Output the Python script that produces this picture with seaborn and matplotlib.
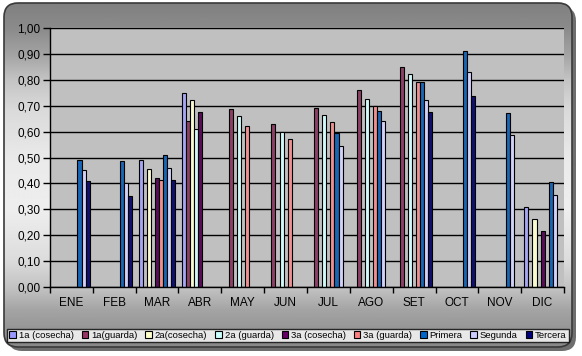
import numpy as np
import pandas as pd
import matplotlib
matplotlib.use('Agg')
import matplotlib.pyplot as plt
from matplotlib.patches import FancyBboxPatch, Patch
import seaborn as sns

meses = ['ENE', 'FEB', 'MAR', 'ABR', 'MAY', 'JUN', 'JUL', 'AGO', 'SET', 'OCT', 'NOV', 'DIC']
series = ['1a (cosecha)', '1a(guarda)', '2a(cosecha)', '2a (guarda)', '3a (cosecha)',
          '3a (guarda)', 'Primera', 'Segunda', 'Tercera']
colores = ['#9999FF', '#993366', '#FFFFCC', '#CCFFFF', '#660066',
           '#FF8080', '#0066CC', '#CCCCFF', '#000080']

nan = np.nan
# one list per series, 12 months each
c1 = [nan, nan, 0.49, 0.75, nan, nan, nan, nan, nan, nan, nan, 0.31]
g1 = [nan, nan, nan, 0.64, 0.685, 0.63, 0.69, 0.76, 0.85, nan, nan, nan]
c2 = [nan, nan, 0.455, 0.72, nan, nan, nan, nan, nan, nan, nan, 0.265]
g2 = [nan, nan, nan, 0.61, 0.66, 0.60, 0.665, 0.725, 0.82, nan, nan, nan]
c3 = [nan, nan, 0.42, 0.675, nan, nan, nan, nan, nan, nan, nan, 0.215]
g3 = [nan, nan, 0.415, nan, 0.62, 0.57, 0.635, 0.70, 0.79, nan, nan, nan]
primera = [0.49, 0.485, 0.51, nan, nan, nan, 0.595, 0.68, 0.79, 0.91, 0.67, 0.405]
segunda = [0.45, 0.40, 0.46, nan, nan, nan, 0.545, 0.64, 0.72, 0.83, 0.585, 0.355]
tercera = [0.41, 0.35, 0.415, nan, nan, nan, nan, nan, 0.675, 0.735, nan, nan]

valores = [c1, g1, c2, g2, c3, g3, primera, segunda, tercera]
rows = []
for s, vals in zip(series, valores):
    for m, v in zip(meses, vals):
        if not np.isnan(v):
            rows.append({'mes': m, 'serie': s, 'valor': v})
df = pd.DataFrame(rows)

plt.rcParams['font.family'] = ['Liberation Sans', 'DejaVu Sans']

W, H = 582, 356
fig = plt.figure(figsize=(W / 100, H / 100), dpi=100)

# chart area: rounded frame with vertical grey gradient and shadow
bg = fig.add_axes([0, 0, 1, 1])
bg.set_xlim(0, W)
bg.set_ylim(H, 0)
bg.axis('off')
shadow = FancyBboxPatch((8, 7), 568, 344, boxstyle='round,pad=0,rounding_size=14',
                        fc='#6E6E6E', ec='none', zorder=0)
bg.add_patch(shadow)
frame = FancyBboxPatch((4, 3), 568, 344, boxstyle='round,pad=0,rounding_size=14',
                       fc='none', ec='#3A3A3A', lw=1.2, zorder=3)
bg.add_patch(frame)
stops_y = [3, 30, 55, 80, 110, 160, 210, 260, 290, 310, 347]
stops_c = [0x80, 0x8C, 0xA4, 0xC4, 0xDA, 0xEA, 0xEE, 0xDC, 0xC0, 0xA4, 0x88]
ys = np.arange(3, 348)
grad = np.interp(ys, stops_y, stops_c) / 255.0
img = np.repeat(grad[:, None], 2, axis=1)
im = bg.imshow(img, cmap='gray', vmin=0, vmax=1, aspect='auto',
               extent=(4, 572, 347, 3), zorder=1, interpolation='bilinear')
clip = FancyBboxPatch((4, 3), 568, 344, boxstyle='round,pad=0,rounding_size=14',
                      fc='none', ec='none', transform=bg.transData)
im.set_clip_path(clip)

ax = fig.add_axes([50 / W, (H - 287.3) / H, 514 / W, 259.6 / H])
ax.set_facecolor('#C0C0C0')
sns.barplot(data=df, x='mes', y='valor', hue='serie', order=meses, hue_order=series,
            palette=colores, width=0.85, edgecolor='black', linewidth=0.8,
            errorbar=None, legend=False, ax=ax)

ax.set_ylim(0, 1)
ax.set_xlim(-0.5, 11.5)
yt = np.arange(0, 1.01, 0.1)
ax.set_yticks(yt)
ax.set_yticklabels([('%.2f' % v).replace('.', ',') for v in yt])
ax.yaxis.grid(True, color='black', lw=1)
ax.set_axisbelow(True)
ax.set_xticks(range(12))
ax.set_xticklabels(meses)
ax.set_xticks(np.arange(-0.5, 12, 1), minor=True)
ax.tick_params(axis='x', which='major', length=0, pad=7, labelsize=8.5)
ax.tick_params(axis='x', which='minor', length=4, width=1, direction='out')
ax.tick_params(axis='y', length=5, width=1, pad=2, labelsize=8.5)
ax.set_xlabel('')
ax.set_ylabel('')
for sp in ['top', 'right']:
    ax.spines[sp].set_visible(False)
for sp in ['left', 'bottom']:
    ax.spines[sp].set_color('black')
    ax.spines[sp].set_linewidth(1)

handles = [Patch(facecolor=c, edgecolor='black', lw=0.8) for c in colores]
leg = fig.legend(handles, series, loc='center',
                 bbox_to_anchor=(7 / W, (H - 344) / H, 562 / W, 17 / H), mode='expand',
                 ncol=9, fontsize=6.8, frameon=True, fancybox=False,
                 handlelength=0.7, handleheight=0.7, handletextpad=0.3,
                 columnspacing=0.4, borderpad=0.25, borderaxespad=0)
leg.get_frame().set_edgecolor('black')
leg.get_frame().set_linewidth(1)
leg.get_frame().set_facecolor('white')

fig.savefig('out.png', dpi=100)
